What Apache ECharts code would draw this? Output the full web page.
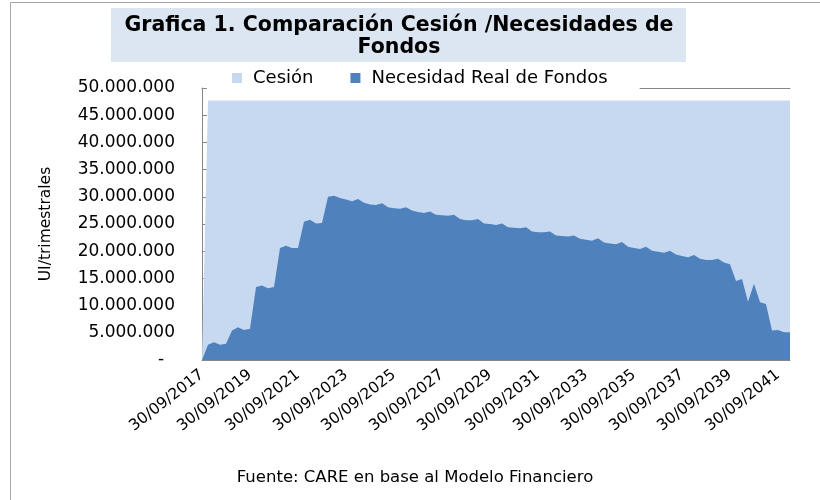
<!DOCTYPE html>
<html>
<head>
<meta charset="utf-8">
<script src="https://cdn.jsdelivr.net/npm/echarts@6/dist/echarts.min.js"></script>
<style>
html,body{margin:0;padding:0;background:#fff;}
#chart{width:820px;height:500px;}
</style>
</head>
<body>
<div id="chart"></div>
<script>
// Quarter-end dates from 30/09/2017 (99 quarters)
const quarterEnds = ['30/09', '31/12', '31/03', '30/06'];
const startYear = 2017;
const pointCount = 99;
const categories = [];
for (let i = 0; i < pointCount; i++) {
  const q = i % 4;
  // 30/09 and 31/12 belong to year Y, 31/03 and 30/06 to Y+1
  const y = startYear + Math.floor(i / 4) + (q >= 2 ? 1 : 0);
  categories.push(quarterEnds[q] + '/' + y);
}

const seriesNames = ['Cesión', 'Necesidad Real de Fondos'];

const cesion = [
  0, 47700000, 47700000, 47700000, 47700000, 47700000, 47700000, 47700000, 47700000, 47700000,
  47700000, 47700000, 47700000, 47700000, 47700000, 47700000, 47700000, 47700000, 47700000, 47700000,
  47700000, 47700000, 47700000, 47700000, 47700000, 47700000, 47700000, 47700000, 47700000, 47700000,
  47700000, 47700000, 47700000, 47700000, 47700000, 47700000, 47700000, 47700000, 47700000, 47700000,
  47700000, 47700000, 47700000, 47700000, 47700000, 47700000, 47700000, 47700000, 47700000, 47700000,
  47700000, 47700000, 47700000, 47700000, 47700000, 47700000, 47700000, 47700000, 47700000, 47700000,
  47700000, 47700000, 47700000, 47700000, 47700000, 47700000, 47700000, 47700000, 47700000, 47700000,
  47700000, 47700000, 47700000, 47700000, 47700000, 47700000, 47700000, 47700000, 47700000, 47700000,
  47700000, 47700000, 47700000, 47700000, 47700000, 47700000, 47700000, 47700000, 47700000, 47700000,
  47700000, 47700000, 47700000, 47700000, 47700000, 47700000, 47700000, 47700000, 47700000
];

const necesidad = [
  0, 2800000, 3250000, 2800000, 3000000, 5400000, 6000000, 5500000, 5750000, 13400000,
  13700000, 13200000, 13400000, 20600000, 21000000, 20600000, 20600000, 25400000, 25800000, 25100000,
  25200000, 30000000, 30200000, 29800000, 29500000, 29200000, 29600000, 28900000, 28600000, 28500000,
  28800000, 28100000, 27900000, 27800000, 28100000, 27500000, 27200000, 27000000, 27300000, 26700000,
  26600000, 26500000, 26700000, 25900000, 25700000, 25700000, 25900000, 25100000, 25000000, 24800000,
  25100000, 24400000, 24300000, 24200000, 24400000, 23600000, 23500000, 23500000, 23600000, 22900000,
  22800000, 22700000, 22900000, 22300000, 22100000, 21900000, 22400000, 21600000, 21400000, 21300000,
  21700000, 20800000, 20600000, 20400000, 20800000, 20100000, 19900000, 19700000, 20100000, 19400000,
  19100000, 18900000, 19300000, 18600000, 18400000, 18400000, 18600000, 17900000, 17600000, 14500000,
  14900000, 10700000, 14000000, 10600000, 10300000, 5400000, 5500000, 5100000, 5100000
];

const yMin = 0, yMax = 50000000, yStep = 5000000;
const titleText = 'Grafica 1. Comparación Cesión /Necesidades de\nFondos';
const yAxisTitle = 'UI/trimestrales';
const sourceText = 'Fuente: CARE en base al Modelo Financiero';

function fmtThousands(v) {
  if (v === 0) return '-  ';
  return String(v).replace(/\B(?=(\d{3})+(?!\d))/g, '.');
}

const FONT = 'DejaVu Sans';
const chart = echarts.init(document.getElementById('chart'), null, {renderer: 'canvas'});
chart.setOption({
  animation: false,
  backgroundColor: '#ffffff',
  textStyle: {fontFamily: FONT},
  graphic: [
    {type: 'rect', z: -10, shape: {x: 10.5, y: 2.5, width: 830, height: 520}, style: {fill: 'none', stroke: '#a6a6a6', lineWidth: 1}},
    {type: 'rect', z: 10, shape: {x: 111, y: 8, width: 575, height: 54}, style: {fill: '#DCE6F2'}},
    {type: 'text', z: 11, x: 399, y: 36.5, style: {text: titleText, fontFamily: FONT, fontWeight: 'bold', fontSize: 20.5, lineHeight: 22, fill: '#000', align: 'center', verticalAlign: 'middle'}},
    {type: 'text', z: 11, x: 415, y: 478, style: {text: sourceText, fontFamily: FONT, fontSize: 16.5, fill: '#000', align: 'center', verticalAlign: 'middle'}}
  ],
  legend: {
    data: seriesNames,
    left: 207,
    top: 63,
    padding: [6, 32, 7, 25],
    backgroundColor: '#ffffff',
    itemGap: 37,
    itemWidth: 10,
    itemHeight: 10,
    icon: 'rect',
    textStyle: {fontFamily: FONT, fontSize: 18, color: '#000', padding: [0, 0, 0, 6]}
  },
  grid: {left: 202, right: 30, top: 88, bottom: 140, containLabel: false},
  xAxis: [
    {
      type: 'category',
      data: categories,
      boundaryGap: false,
      axisLine: {lineStyle: {color: '#868686', width: 1}},
      axisTick: {show: false},
      axisLabel: {interval: 7, rotate: 38, margin: 13, fontFamily: FONT, fontSize: 15.5, color: '#000'},
      splitLine: {show: false}
    },
    {
      type: 'category',
      data: categories,
      position: 'top',
      boundaryGap: false,
      axisLine: {lineStyle: {color: '#868686', width: 1}},
      axisTick: {show: false},
      axisLabel: {show: false},
      splitLine: {show: false}
    }
  ],
  yAxis: {
    type: 'value',
    min: yMin,
    max: yMax,
    interval: yStep,
    name: yAxisTitle,
    nameLocation: 'middle',
    nameGap: 148,
    nameTextStyle: {fontFamily: FONT, fontSize: 15.5, color: '#000'},
    axisLine: {show: true, lineStyle: {color: '#868686', width: 1}},
    axisTick: {show: true, inside: true, length: 5, lineStyle: {color: '#868686'}},
    splitLine: {show: false},
    axisLabel: {formatter: fmtThousands, margin: 27, fontFamily: FONT, fontSize: 17, color: '#000'}
  },
  series: [
    {
      name: seriesNames[0],
      type: 'line',
      data: cesion,
      symbol: 'none',
      lineStyle: {width: 0},
      itemStyle: {color: '#C6D9F1'},
      areaStyle: {color: '#C6D9F1', opacity: 1},
      z: 2
    },
    {
      name: seriesNames[1],
      type: 'line',
      data: necesidad,
      symbol: 'none',
      lineStyle: {width: 0},
      itemStyle: {color: '#4F81BD'},
      areaStyle: {color: '#4F81BD', opacity: 1},
      z: 3
    }
  ]
});
</script>
</body>
</html>
